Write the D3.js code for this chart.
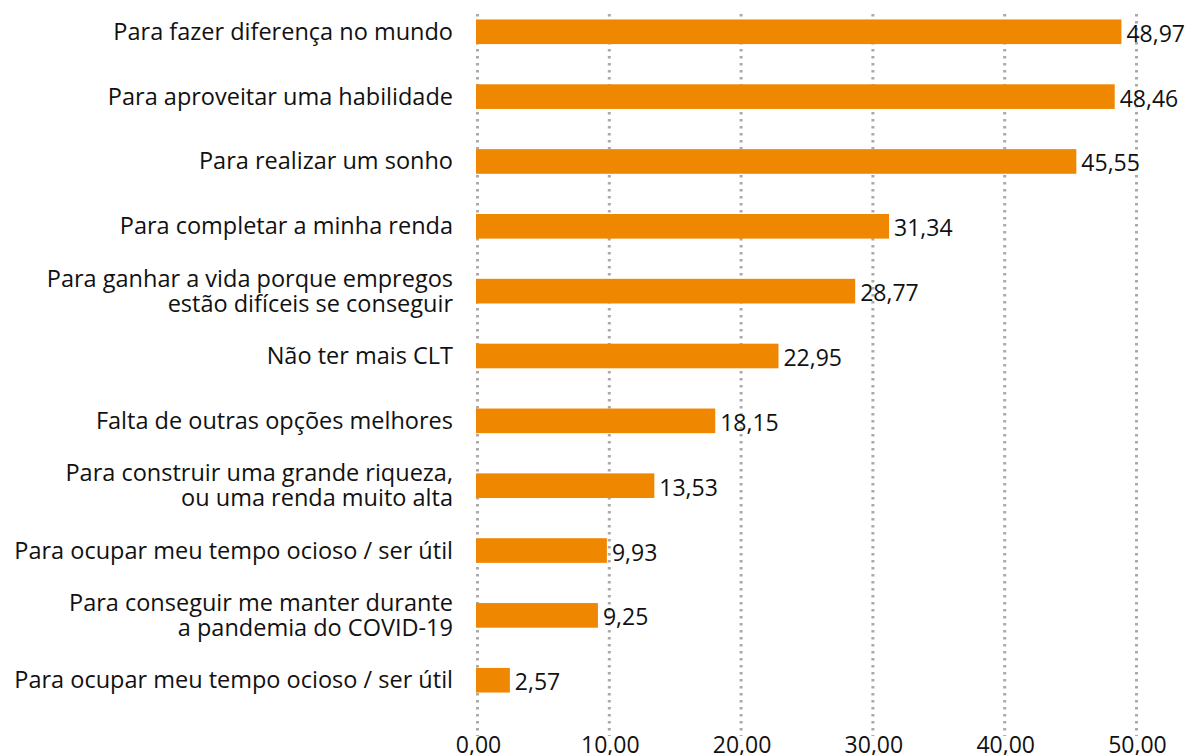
<!DOCTYPE html>
<html>
<head>
<meta charset="utf-8">
<script src="https://cdn.jsdelivr.net/npm/d3@7"></script>
<style>
  body { margin: 0; background: #fff; }
  svg { display: block; font-family: "Open Sans", "Noto Sans", sans-serif; }
</style>
</head>
<body>
<script>
// categories, top to bottom (each entry = lines of the label)
var categories = [
    ['Para fazer diferença no mundo'],
    ['Para aproveitar uma habilidade'],
    ['Para realizar um sonho'],
    ['Para completar a minha renda'],
    ['Para ganhar a vida porque empregos', 'estão difíceis se conseguir'],
    ['Não ter mais CLT'],
    ['Falta de outras opções melhores'],
    ['Para construir uma grande riqueza,', 'ou uma renda muito alta'],
    ['Para ocupar meu tempo ocioso / ser útil'],
    ['Para conseguir me manter durante', 'a pandemia do COVID-19'],
    ['Para ocupar meu tempo ocioso / ser útil']
];
var values = [48.97, 48.46, 45.55, 31.34, 28.77, 22.95, 18.15, 13.53, 9.93, 9.25, 2.57];
var tickValues = [0, 10, 20, 30, 40, 50];

var width = 1193, height = 755;
var plotLeft = 476, plotRight = 1135, plotTop = 0, plotBottom = 712;

var svg = d3.select('body').append('svg')
    .attr('width', width).attr('height', height);

var fmt = function(v){ return v.toFixed(2).replace('.', ','); };

var x = d3.scaleLinear().domain([0, 50]).range([plotLeft, plotRight]);
var y = d3.scaleBand()
    .domain(d3.range(values.length))
    .range([plotTop, plotBottom])
    .paddingInner(0.62)
    .paddingOuter(0.3);

// dotted gridlines
svg.append('g').selectAll('line')
    .data(tickValues)
    .enter().append('line')
    .attr('x1', function(d){ return x(d) + 1.5; })
    .attr('x2', function(d){ return x(d) + 1.5; })
    .attr('y1', 14).attr('y2', 736)
    .attr('stroke', '#aaa')
    .attr('stroke-width', 3)
    .attr('stroke-dasharray', '2.5,4.5');

// bars
svg.append('g').selectAll('rect')
    .data(values)
    .enter().append('rect')
    .attr('x', x(0))
    .attr('y', function(d, i){ return y(i); })
    .attr('width', function(d){ return x(d) - x(0); })
    .attr('height', y.bandwidth())
    .attr('fill', '#f08700');

// value labels
svg.append('g').selectAll('text')
    .data(values)
    .enter().append('text')
    .attr('x', function(d){ return x(d) + 5; })
    .attr('y', function(d, i){ return y(i) + y.bandwidth() / 2 + 10; })
    .attr('font-size', 23)
    .attr('fill', '#111')
    .text(fmt);

// category labels
var cat = svg.append('g').selectAll('text')
    .data(categories)
    .enter().append('text')
    .attr('text-anchor', 'end')
    .attr('font-size', 23.5)
    .attr('fill', '#111')
    .attr('y', function(d, i){ return y(i) + y.bandwidth() / 2 + 8 - (d.length - 1) * 12.5; });

cat.selectAll('tspan')
    .data(function(d){ return d; })
    .enter().append('tspan')
    .attr('x', 453)
    .attr('dy', function(d, j){ return j === 0 ? 0 : 25; })
    .text(function(d){ return d; });

// x axis tick labels
var axis = d3.axisBottom(x)
    .tickValues(tickValues)
    .tickFormat(fmt)
    .tickSize(0)
    .tickPadding(0);

var ax = svg.append('g')
    .attr('transform', 'translate(0,753)')
    .call(axis);
ax.select('.domain').remove();
ax.selectAll('text')
    .attr('font-size', 23)
    .attr('font-family', '"Open Sans", "Noto Sans", sans-serif')
    .attr('fill', '#111')
    .attr('dy', 0)
    .attr('dx', 2);
</script>
</body>
</html>
